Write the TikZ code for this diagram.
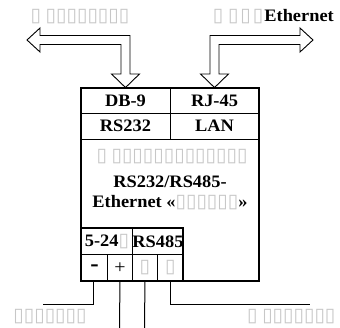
\documentclass[tikz,border=0pt]{standalone}
\usepackage{fontspec}
\setmainfont[FakeStretch=1.05]{Liberation Serif}
\newfontfamily\symf{DejaVu Sans}
\newcommand\tofu{{\symf\fontsize{19}{20}\selectfont\color{black!22}▯}}
\begin{document}
\begin{tikzpicture}[x=1pt,y=-1pt,
  lbl/.style={font=\fontsize{17.5}{20}\selectfont\bfseries, inner sep=0pt},
  cell/.style={draw, line width=0.9pt, inner sep=0pt, font=\fontsize{17.5}{20}\selectfont\bfseries},
  arr/.style={draw, line width=0.9pt, line join=miter},
  wire/.style={line width=1pt}]
\useasboundingbox (0,0) rectangle (340,328);
% main body
\node[draw, line width=1.6pt, minimum width=178, minimum height=193, inner sep=0pt] (body) at (170,184.5) {};
% top table
\node[cell, minimum width=89, minimum height=25] (db9) at (125.5,100.5) {DB-9};
\node[cell, minimum width=89, minimum height=25] (rj45) at (214.5,100.5) {RJ-45};
\node[cell, minimum width=89, minimum height=26] (rs232) at (125.5,126) {RS232};
\node[cell, minimum width=89, minimum height=26] (lan) at (214.5,126) {LAN};
\draw[line width=1.6pt] (81,88) rectangle (259,281);
% middle text
\node[lbl] (t1) at (172,157) {\tofu\ \tofu\tofu\tofu\tofu\tofu\tofu\tofu\tofu\tofu\tofu\tofu\tofu\tofu};
\node[lbl] (t2) at (170,182) {RS232/RS485-};
\node[lbl] (t3) at (170,203) {Ethernet «\tofu\tofu\tofu\tofu\tofu\tofu»};
% bottom table
\node[cell, minimum width=51, minimum height=26, anchor=north west] (pwr) at (81,228) {5-24\tofu};
\node[cell, minimum width=51, minimum height=26, anchor=north west] (rs485) at (132,228) {RS485};
\node[cell, minimum width=26, minimum height=27, anchor=north west, font=\fontsize{24}{24}\selectfont\bfseries] (minus) at (81,254) {-};
\node[cell, minimum width=25, minimum height=27, anchor=north west, font=\fontsize{19}{20}\selectfont] (plus) at (107,254) {+};
\node[cell, minimum width=25, minimum height=27, anchor=north west] (pa) at (132,254) {\tofu};
\node[cell, minimum width=26, minimum height=27, anchor=north west] (pb) at (157,254) {\tofu};
\draw[line width=1.6pt] (81,281) -- (81,228) -- (183,228) -- (183,281);
% arrows
\draw[arr] (27,40) -- (40,28) -- (40,35.5) -- (130,35.5) -- (130,74) -- (139.5,74) -- (db9.north) -- (111.5,74) -- (121,74) -- (121,44.5) -- (40,44.5) -- (40,52) -- cycle;
\draw[arr] (313,40) -- (300,28) -- (300,35.5) -- (210,35.5) -- (210,74) -- (200.5,74) -- (rj45.north) -- (228.5,74) -- (219,74) -- (219,44.5) -- (300,44.5) -- (300,52) -- cycle;
% top labels
\node[lbl] (pc) at (80,17) {\tofu\ \tofu\tofu\tofu\tofu\tofu\tofu\tofu\tofu};
\node[lbl, anchor=east] (eth) at (334,17) {\tofu\ \tofu\hspace{2pt}\tofu\hspace{2pt}\tofu\hspace{1pt}Ethernet};
% wires
\coordinate (wl) at (43,305);
\coordinate (wr) at (310,305);
\coordinate (w2) at (119.5,328);
\coordinate (w3) at (144.5,328);
\draw[wire] (minus.south) ++(-1,0) |- (wl);
\draw[wire] (plus.south) -- (w2);
\draw[wire] (pa.south) -- (w3);
\draw[wire] (pb.south) |- (wr);
% bottom labels
\node[lbl] (lbl1) at (50,317) {\tofu\tofu\tofu\tofu\tofu\tofu\tofu};
\node[lbl, anchor=west] (lbl2) at (247,317) {\tofu\ \tofu\tofu\tofu\tofu\tofu\tofu\tofu};
\end{tikzpicture}
\end{document}
